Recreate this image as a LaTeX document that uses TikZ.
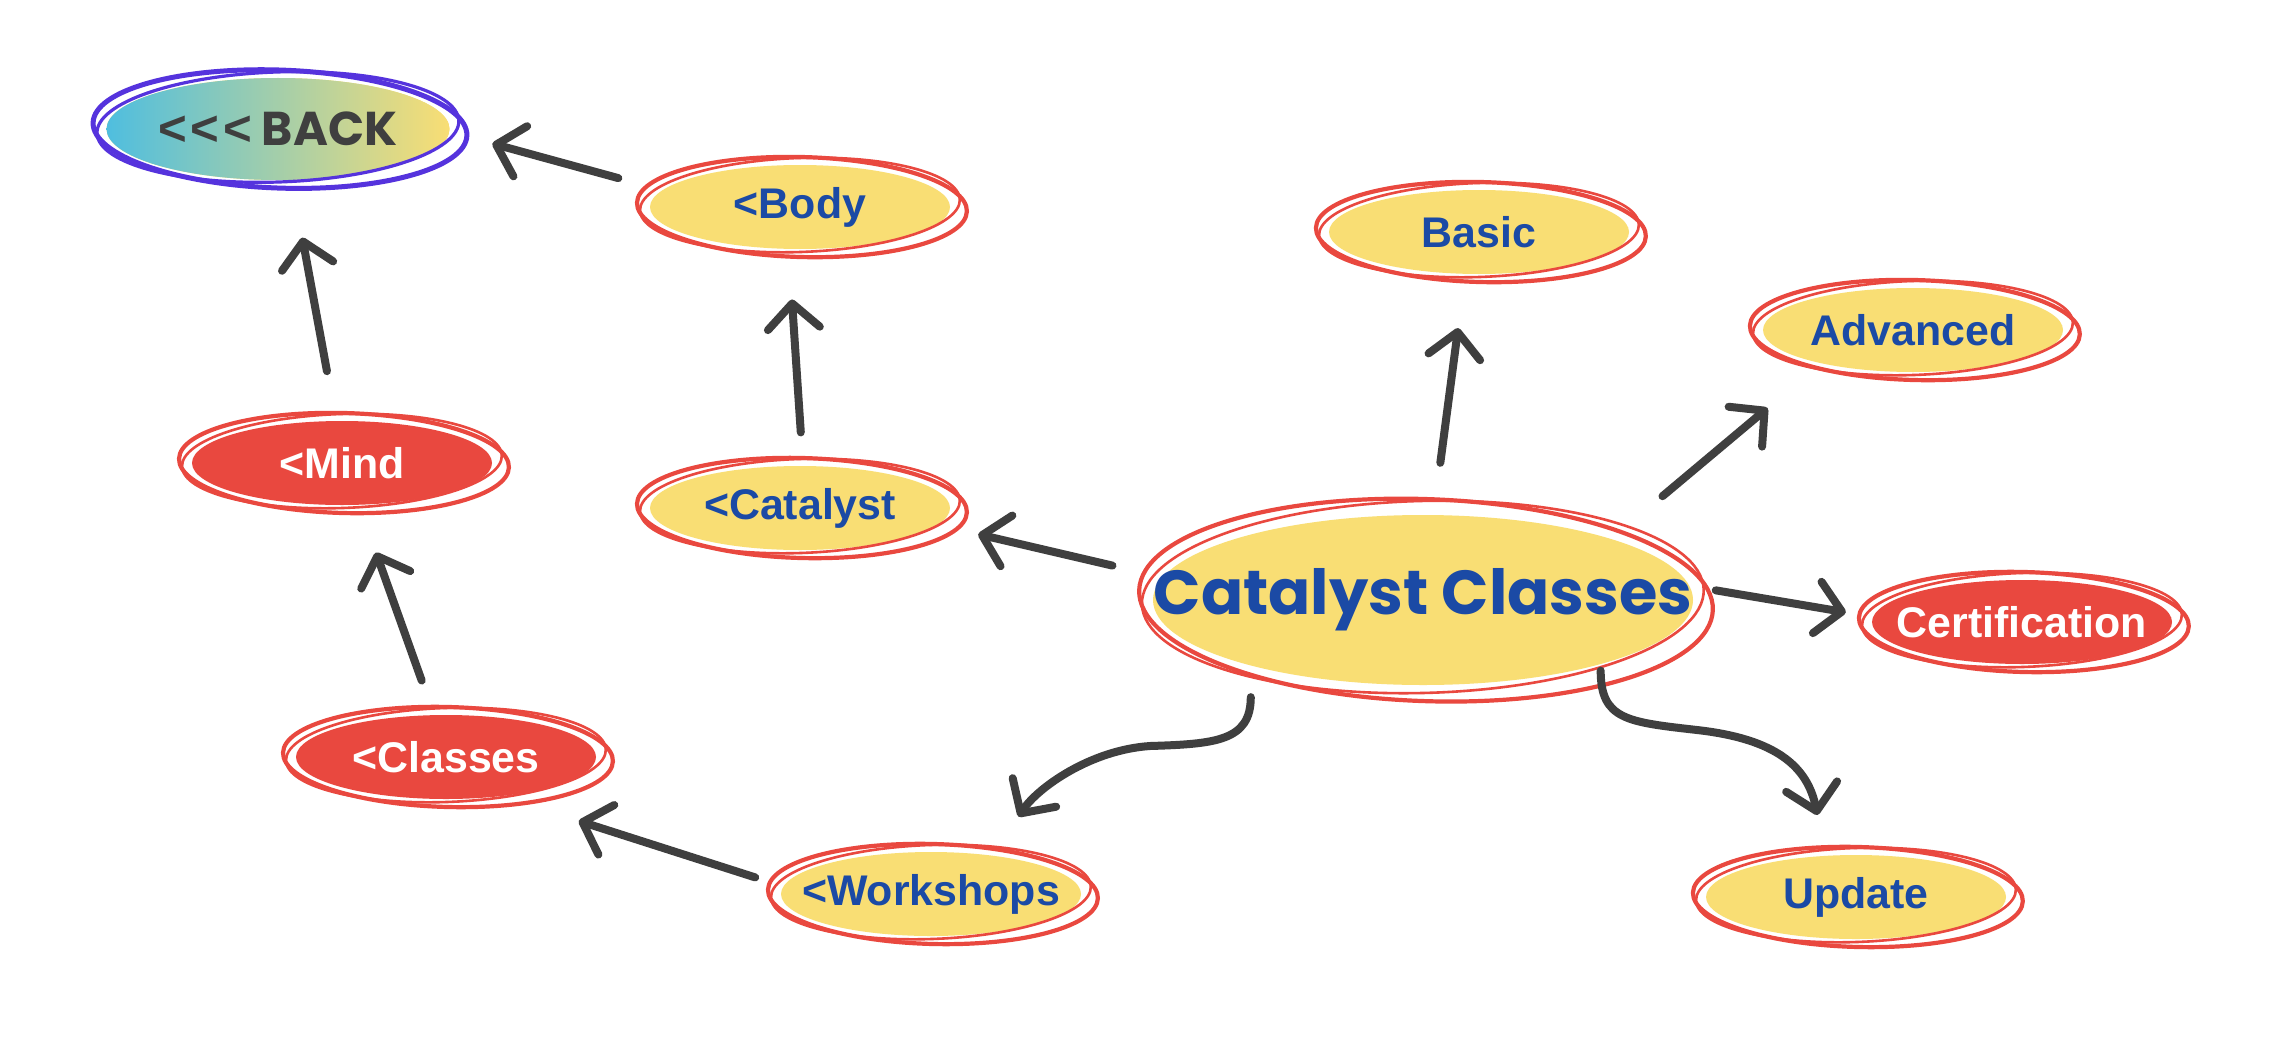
\documentclass[tikz,border=0pt]{standalone}
\usepackage{fontspec}
\setmainfont{Liberation Sans}
\newfontfamily\poppins{Poppins}
\usepackage{xcolor}
\usepackage{tikz}
\usetikzlibrary{arrows.meta, shapes.geometric}

\definecolor{sun}{HTML}{F9DE74}
\definecolor{tomato}{HTML}{E9483F}
\definecolor{navy}{HTML}{1B4AA5}
\definecolor{ink}{HTML}{3F3F3F}
\definecolor{sky}{HTML}{4FBEDF}
\definecolor{backring}{HTML}{5533DD}

\newcommand\pillfont{\fontsize{12.2pt}{14pt}\selectfont\bfseries}
\newcommand\hubfont{\fontsize{17.7pt}{20pt}\selectfont\poppins\bfseries}
\newcommand\backfont{\fontsize{13.5pt}{16pt}\selectfont\poppins\bfseries}

\begin{document}
\begin{tikzpicture}[
    x=0.1mm, y=-0.1mm,
    pill/.style={ellipse, fill=sun, text=navy, inner sep=0pt,
                 minimum width=30mm, minimum height=8.4mm, font=\pillfont,
                 execute at begin node={\hbox to 0pt\bgroup\hss},
                 execute at end node={\hss\egroup}},
    hot/.style={pill, fill=tomato, text=white},
    ring/.style={draw=tomato, line width=0.42mm},
    thinring/.style={draw=tomato, line width=0.26mm},
    link/.style={draw=ink, line width=0.8mm, line cap=round,
                 -{Straight Barb[round, length=2.5mm, width=5.2mm]}},
]
\path[use as bounding box, fill=white] (0,0) rectangle (2288,1050);

% --- the bubbles -------------------------------------------------------------
\node[pill, left color=sky, right color=sun, text=ink, font=\backfont,
      minimum width=34.3mm, minimum height=10.2mm] (back) at (278,129)
      {{\rmfamily\fontsize{14pt}{16pt}\selectfont <\kern1pt<\kern1pt<}\ BACK};
\node[pill] (body)  at (800,207)  {<Body};
\node[pill] (basic) at (1479,232) {Basic};
\node[pill] (adv)   at (1913,330) {Advanced};
\node[hot]  (mind)  at (342,463)  {<Mind};
\node[pill] (catal) at (800,508)  {<Catalyst};
\node[pill, font=\hubfont, minimum width=54mm, minimum height=17mm]
            (hub)   at (1423,600) {Catalyst Classes};
\node[hot]  (cert)  at (2022,622) {Certification};
\node[hot]  (cls)   at (446,757)  {<Classes};
\node[pill] (work)  at (931,894)  {<Workshops};
\node[pill] (upd)   at (1856,897) {Update};

% --- scribbled outlines ------------------------------------------------------
\foreach \n in {body,basic,adv,catal,mind,cert,cls,work,upd}{
  \draw[ring, rotate around={-1.5:(\n.center)}] ([shift={(2,0)}]\n.center)
      ellipse [x radius=165, y radius=50];
  \draw[thinring, rotate around={2:(\n.center)}] ([shift={(0,-2)}]\n.center)
      ellipse [x radius=160, y radius=47];
}
\draw[ring, rotate around={-2:(hub.center)}] ([shift={(3,0)}]hub.center)
    ellipse [x radius=287, y radius=101];
\draw[thinring, rotate around={1.5:(hub.center)}] ([shift={(0,-3)}]hub.center)
    ellipse [x radius=281, y radius=96];
\draw[ring, draw=backring, line width=0.5mm, rotate around={-2:(back.center)}]
    ([shift={(2,0)}]back.center) ellipse [x radius=187, y radius=59];
\draw[thinring, draw=backring, line width=0.32mm, rotate around={2:(back.center)}]
    ([shift={(0,-2)}]back.center) ellipse [x radius=181, y radius=55];

% --- back links on the left --------------------------------------------------
\draw[link, shorten <=4.5mm, shorten >=4.4mm] (body.173) -- (back.-1);
\draw[link, shorten <=5mm, shorten >=5.8mm] (mind.98) -- (back.-75);
\draw[link, shorten <=3.3mm, shorten >=5mm] (catal.86) -- (body.-105);
\draw[link, shorten <=2.9mm, shorten >=8mm] (work.177) -- (cls.-35);
\draw[link, shorten <=3.6mm, shorten >=5mm] (cls.106) -- (mind.-68);

% --- links out of the hub ----------------------------------------------------
\draw[link, shorten <=5.1mm, shorten >=4.1mm] (hub.175) -- (catal.-7);
\draw[link, shorten <=5.2mm, shorten >=5.4mm] (hub.83) -- (basic.-108);
\draw[link, shorten <=6.6mm, shorten >=6.9mm] (hub.18) -- (adv.-160);
\draw[link, shorten <=2.6mm, shorten >=2.7mm] (hub.3) -- (cert.178);
\draw[link, shorten <=3.1mm, shorten >=4.6mm] (hub.-159)
    .. controls +(0,75) and +(65,-2) .. (1150,746)
    .. controls +(-60,4) and +(44,-67) .. (work.32);
\draw[link, shorten <=0.6mm, shorten >=4.1mm] (hub.-20)
    .. controls +(0,55) and +(-70,-8) .. (1697,730)
    .. controls +(80,9) and +(-18,-88) .. (upd.126);

\end{tikzpicture}
\end{document}
